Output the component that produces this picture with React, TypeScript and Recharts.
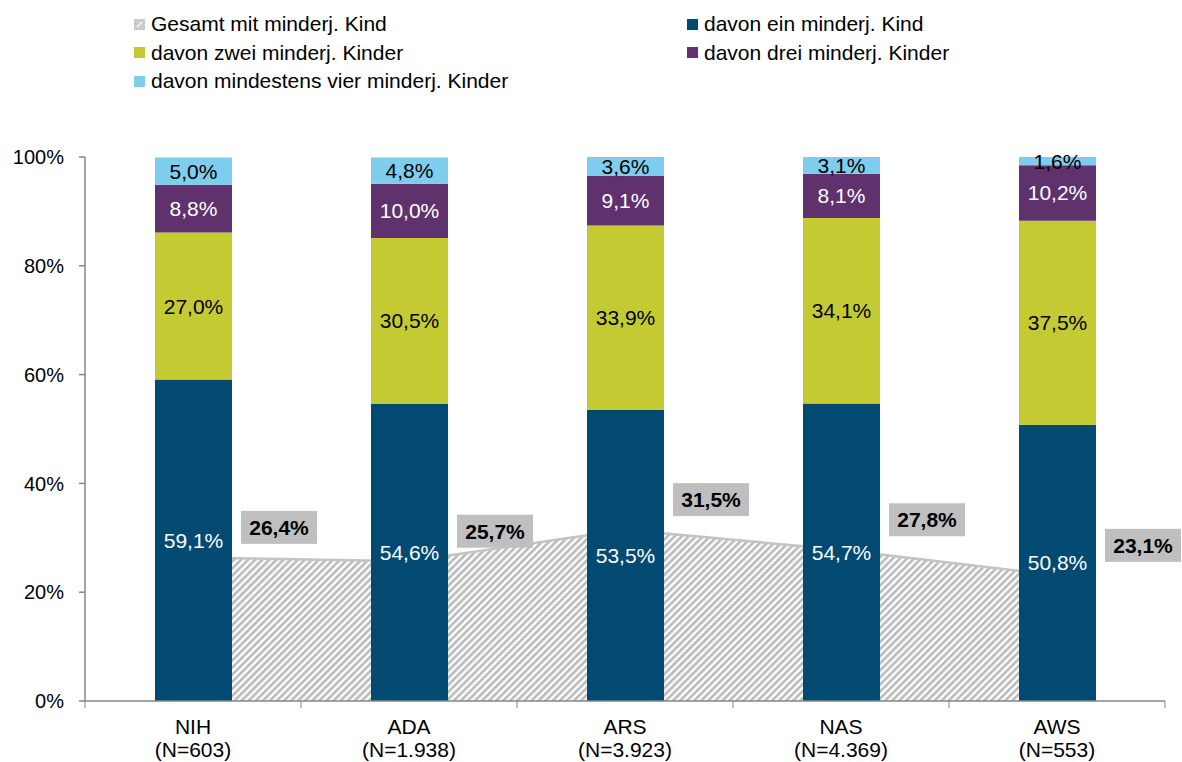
import React from "react";
import {
    ComposedChart,
    Bar,
    Area,
    XAxis,
    YAxis,
    LabelList,
} from "recharts";

const categories = ["NIH", "ADA", "ARS", "NAS", "AWS"];
const sampleSizes = ["N=603", "N=1.938", "N=3.923", "N=4.369", "N=553"];
const gesamt = [26.4, 25.7, 31.5, 27.8, 23.1];
const einKind = [59.1, 54.6, 53.5, 54.7, 50.8];
const zweiKinder = [27.0, 30.5, 33.9, 34.1, 37.5];
const dreiKinder = [8.8, 10.0, 9.1, 8.1, 10.2];
const vierKinder = [5.0, 4.8, 3.6, 3.1, 1.6];
const yTicks = [0, 20, 40, 60, 80, 100];

const data = categories.map((name, i) => ({
    name,
    gesamt: gesamt[i],
    ein: einKind[i],
    zwei: zweiKinder[i],
    drei: dreiKinder[i],
    vier: vierKinder[i],
}));

// ── layout ────────────────────────────────────────────────────────────────
const W = 1182;
const H = 762;
const M = { top: 157, right: 17, bottom: 0, left: 0 };
const Y_AXIS_W = 85;
const X_AXIS_H = 61;
const STEP = (W - M.right - Y_AXIS_W) / categories.length;

const AXIS = "#868686";
const FONT = "'Liberation Sans', Arial, sans-serif";
const C = {
    ein: "#034a72",
    zwei: "#c3ca32",
    drei: "#5f316d",
    vier: "#7ecdec",
    hatch: "#bababa",
    box: "#bfbfbf",
};

const fmt = (v: any) => `${Number(v).toFixed(1).replace(".", ",")}%`;

function XTick({ x, y, payload }: any) {
    const i = payload.index;
    return (
        <g>
            <line x1={x - STEP / 2} x2={x - STEP / 2} y1={y} y2={y + 7} stroke={AXIS} />
            {i === categories.length - 1 && (
                <line x1={x + STEP / 2} x2={x + STEP / 2} y1={y} y2={y + 7} stroke={AXIS} />
            )}
            <text x={x} y={y + 33} textAnchor="middle" fontSize={21} fill="#000" fontFamily={FONT}>
                {payload.value}
            </text>
            <text x={x} y={y + 56} textAnchor="middle" fontSize={21} fill="#000" fontFamily={FONT}>
                ({sampleSizes[i]})
            </text>
        </g>
    );
}

function TotalLabel({ x, y, value }: any) {
    const cx = x + 86;
    const cy = y - 30;
    return (
        <g>
            <rect x={cx - 38} y={cy - 16.5} width={76} height={33} fill={C.box} />
            <text
                x={cx}
                y={cy + 7.5}
                textAnchor="middle"
                fontSize={21}
                fontWeight="bold"
                fill="#000"
                fontFamily={FONT}
            >
                {fmt(value)}
            </text>
        </g>
    );
}

// ── legend ────────────────────────────────────────────────────────────────
const legendItems = [
    { label: "Gesamt mit minderj. Kind", color: "hatch", col: 0, row: 0 },
    { label: "davon ein minderj. Kind", color: C.ein, col: 1, row: 0 },
    { label: "davon zwei minderj. Kinder", color: C.zwei, col: 0, row: 1 },
    { label: "davon drei minderj. Kinder", color: C.drei, col: 1, row: 1 },
    { label: "davon mindestens vier minderj. Kinder", color: C.vier, col: 0, row: 2 },
];

function ChartLegend() {
    const colX = [134, 687];
    return (
        <>
            {legendItems.map((it) => (
                <div
                    key={it.label}
                    style={{
                        position: "absolute",
                        left: colX[it.col],
                        top: 24 + it.row * 28.5 - 12,
                        height: 24,
                        display: "flex",
                        alignItems: "center",
                        fontSize: 21,
                        color: "#000",
                        whiteSpace: "nowrap",
                    }}
                >
                    {it.color === "hatch" ? (
                        <svg width={11} height={11} style={{ marginRight: 6 }}>
                            <rect x={0} y={0} width={11} height={11} fill="#cacaca" />
                            <line x1={3} y1={8} x2={8} y2={3} stroke="#fff" strokeWidth={1.5} />
                        </svg>
                    ) : (
                        <span style={{ width: 11, height: 11, background: it.color, marginRight: 6, display: "inline-block" }} />
                    )}
                    <span>{it.label}</span>
                </div>
            ))}
        </>
    );
}

export default function App() {
    return (
        <div style={{ position: "absolute", left: 0, top: 0, width: W, height: H, fontFamily: FONT, background: "#fff" }}>
            <ChartLegend />
            <ComposedChart width={W} height={H} data={data} margin={M} barCategoryGap={0}>
                <defs>
                    <pattern id="hatch" width={5} height={5} patternUnits="userSpaceOnUse" patternTransform="rotate(45)">
                        <rect width={5} height={5} fill="#fff" />
                        <rect x={0} y={0} width={2.6} height={5} fill={C.hatch} />
                    </pattern>
                </defs>
                <XAxis
                    dataKey="name"
                    height={X_AXIS_H}
                    tickLine={false}
                    tickSize={0}
                    tickMargin={0}
                    interval={0}
                    axisLine={{ stroke: AXIS, strokeWidth: 1.5 }}
                    tick={<XTick />}
                />
                <YAxis
                    width={Y_AXIS_W}
                    domain={[0, 100]}
                    allowDataOverflow
                    ticks={yTicks}
                    tickFormatter={(v) => `${v}%`}
                    tick={{ fontSize: 20, fill: "#000", fontFamily: FONT }}
                    tickSize={6}
                    tickMargin={15}
                    tickLine={{ stroke: AXIS, strokeWidth: 1.5 }}
                    axisLine={{ stroke: AXIS, strokeWidth: 1.5 }}
                />
                <Area
                    type="linear"
                    dataKey="gesamt"
                    fill="url(#hatch)"
                    fillOpacity={1}
                    stroke="#c4c4c4"
                    strokeWidth={2.5}
                    dot={false}
                    activeDot={false}
                    isAnimationActive={false}
                >
                    <LabelList dataKey="gesamt" content={<TotalLabel />} />
                </Area>
                <Bar dataKey="ein" stackId="s" fill={C.ein} barSize={77} isAnimationActive={false}>
                    <LabelList dataKey="ein" position="center" fill="#fff" fontSize={21} formatter={fmt} />
                </Bar>
                <Bar dataKey="zwei" stackId="s" fill={C.zwei} barSize={77} isAnimationActive={false}>
                    <LabelList dataKey="zwei" position="center" fill="#000" fontSize={21} formatter={fmt} />
                </Bar>
                <Bar dataKey="drei" stackId="s" fill={C.drei} barSize={77} isAnimationActive={false}>
                    <LabelList dataKey="drei" position="center" fill="#fff" fontSize={21} formatter={fmt} />
                </Bar>
                <Bar dataKey="vier" stackId="s" fill={C.vier} barSize={77} isAnimationActive={false}>
                    <LabelList dataKey="vier" position="center" fill="#000" fontSize={21} formatter={fmt} />
                </Bar>
            </ComposedChart>
        </div>
    );
}
